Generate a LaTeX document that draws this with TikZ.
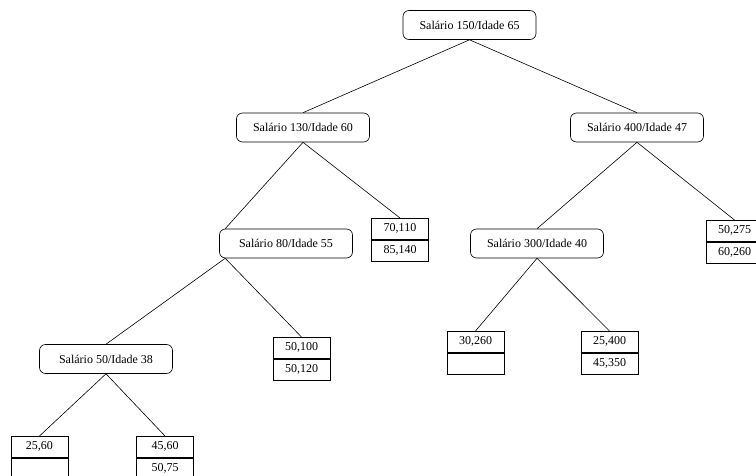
\documentclass[tikz,border=0pt]{standalone}
\usepackage{fontspec}
\setmainfont{Liberation Serif}
\usetikzlibrary{positioning}

\begin{document}
\begin{tikzpicture}[x=1pt, y=-1pt, line width=0.6pt,
  font=\fontsize{12}{14}\selectfont,
  test/.style={draw, rounded corners=6pt, minimum width=133pt, minimum height=29pt, inner sep=0pt},
  cell/.style={draw, minimum width=57pt, minimum height=21pt, inner sep=0pt}]
\useasboundingbox (0,0) rectangle (756,476);
\newcommand{\leafbox}[5]{% name, x, top y, upper pair, lower pair
  \node[cell, anchor=north] (#1) at (#2,#3) {#4};
  \node[cell, anchor=north] (#1-b) at (#1.south) {#5};}
% decision nodes
\foreach \n/\x/\y/\t in {s150/469.5/25/{Salário 150/Idade 65},
    s130/303/127.5/{Salário 130/Idade 60}, s400/637/127.5/{Salário 400/Idade 47},
    s80/286/243.5/{Salário 80/Idade 55}, s300/537/243.5/{Salário 300/Idade 40},
    s50/106/359/{Salário 50/Idade 38}}
  \node[test] (\n) at (\x,\y) {\t};
% leaves
\leafbox{l70}{400}{218}{70,110}{85,140}
\leafbox{l275}{734.5}{220}{50,275}{60,260}
\leafbox{l100}{301.5}{337}{50,100}{50,120}
\leafbox{l30}{475.5}{331}{30,260}{}
\leafbox{l400}{609.5}{331}{25,400}{45,350}
\leafbox{l25}{39.5}{436}{25,60}{}
\leafbox{l45}{165}{436}{45,60}{50,75}
% branches
\foreach \a/\b in {s150/s130, s150/s400, s130/l70, s400/s300, s400/l275,
    s300/l30, s300/l400, s50/l25, s50/l45}
  \draw (\a.south) -- (\b.north);
% the 80/55 test hangs off its left end
\draw (s130.south) -- ([xshift=6pt]s80.north west);
\draw ([xshift=6pt]s80.south west) -- (s50.north);
\draw ([xshift=6pt]s80.south west) -- (l100.north);
\end{tikzpicture}
\end{document}
